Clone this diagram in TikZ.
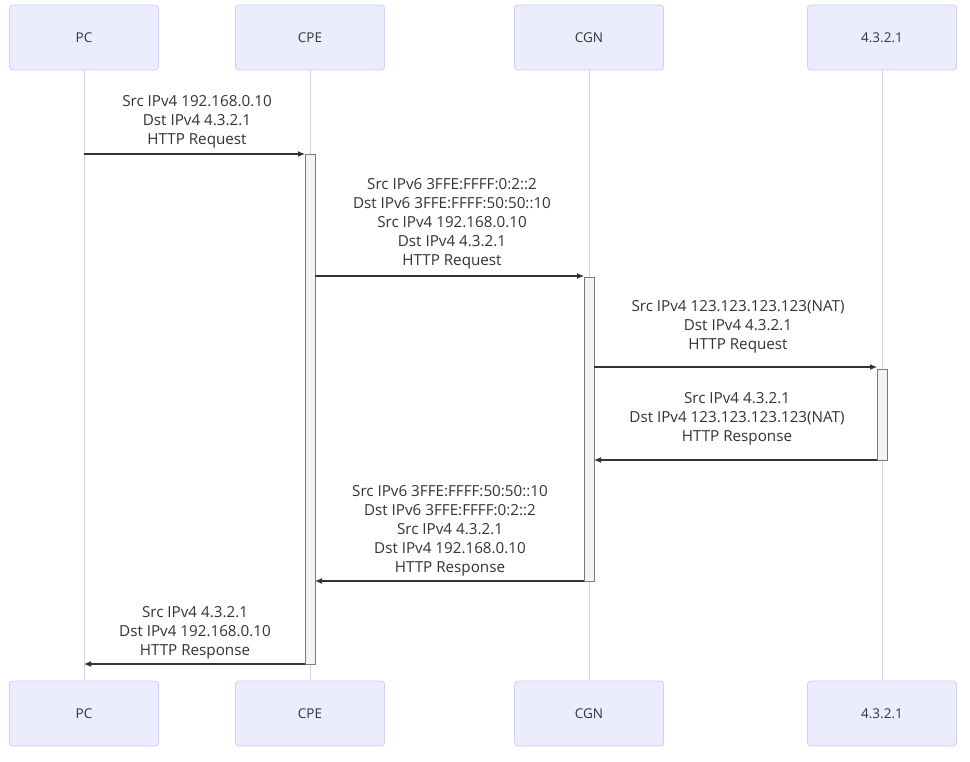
\documentclass[tikz,border=0pt]{standalone}
\usepackage{fontspec}
\setmainfont{Open Sans}
\usetikzlibrary{arrows.meta}
\definecolor{actorfill}{HTML}{ECECFF}
\definecolor{actorline}{HTML}{D4CCF5}
\definecolor{lifeline}{HTML}{D6D6D6}
\definecolor{txt}{HTML}{333333}
\definecolor{actfill}{HTML}{F4F4F4}
\definecolor{actline}{HTML}{7A7A7A}
\tikzset{
  actor/.style={draw=actorline, fill=actorfill, rounded corners=3pt, line width=0.8pt,
    minimum width=149pt, minimum height=65pt, inner sep=0pt, text=txt,
    font=\fontsize{13.5}{16}\selectfont},
  life/.style={draw=lifeline, line width=0.9pt},
  activation/.style={draw=actline, fill=actfill, line width=0.8pt},
  msg/.style={draw=txt, line width=1.1pt, -{Latex[length=7pt,width=6pt]}},
  msglabel/.style={align=center, inner sep=0pt, text=txt,
    font=\fontsize{15.2}{19}\selectfont}
}
\begin{document}
\begin{tikzpicture}[x=1pt,y=-1pt]
\useasboundingbox (0,0) rectangle (970,761);
\fill[white] (0,0) rectangle (970,761);

% participants, top and bottom
\node[actor] (pcT)  at (84,37.5)  {PC};
\node[actor] (cpeT) at (310,37.5) {CPE};
\node[actor] (cgnT) at (589,37.5) {CGN};
\node[actor] (srvT) at (882,37.5) {4.3.2.1};
\node[actor] (pcB)  at (84,713.5)  {PC};
\node[actor] (cpeB) at (310,713.5) {CPE};
\node[actor] (cgnB) at (589,713.5) {CGN};
\node[actor] (srvB) at (882,713.5) {4.3.2.1};

% lifelines
\draw[life] (pcT.south) -- (pcB.north);
\draw[life] (cpeT.south) -- (cpeB.north);
\draw[life] (cgnT.south) -- (cgnB.north);
\draw[life] (srvT.south) -- (srvB.north);

% activation bars
\draw[activation] (305,154) rectangle (315,664);
\draw[activation] (584,277) rectangle (594,581);
\draw[activation] (877,369) rectangle (887,460);

% message end points
\coordinate (m1s) at (84,154);  \coordinate (m1e) at (305,154);
\coordinate (m2s) at (315,276); \coordinate (m2e) at (584,276);
\coordinate (m3s) at (594,367); \coordinate (m3e) at (877,367);
\coordinate (m4s) at (877,460); \coordinate (m4e) at (594,460);
\coordinate (m5s) at (584,581); \coordinate (m5e) at (315,581);
\coordinate (m6s) at (305,664); \coordinate (m6e) at (84,664);

% messages
\draw[msg] (m1s) -- (m1e);
\draw[msg] (m2s) -- (m2e);
\draw[msg] (m3s) -- (m3e);
\draw[msg] (m4s) -- (m4e);
\draw[msg] (m5s) -- (m5e);
\draw[msg] (m6s) -- (m6e);

% message labels
\node[msglabel] (l1) at (197,121.5) {Src IPv4 192.168.0.10\\Dst IPv4 4.3.2.1\\HTTP Request};
\node[msglabel] (l2) at (452,223.5) {Src IPv6 3FFE:FFFF:0:2::2\\Dst IPv6 3FFE:FFFF:50:50::10\\Src IPv4 192.168.0.10\\Dst IPv4 4.3.2.1\\HTTP Request};
\node[msglabel] (l3) at (738,326.5) {Src IPv4 123.123.123.123(NAT)\\Dst IPv4 4.3.2.1\\HTTP Request};
\node[msglabel] (l4) at (737,418.5) {Src IPv4 4.3.2.1\\Dst IPv4 123.123.123.123(NAT)\\HTTP Response};
\node[msglabel] (l5) at (450,530.5) {Src IPv6 3FFE:FFFF:50:50::10\\Dst IPv6 3FFE:FFFF:0:2::2\\Src IPv4 4.3.2.1\\Dst IPv4 192.168.0.10\\HTTP Response};
\node[msglabel] (l6) at (195,632.5) {Src IPv4 4.3.2.1\\Dst IPv4 192.168.0.10\\HTTP Response};
\end{tikzpicture}
\end{document}
